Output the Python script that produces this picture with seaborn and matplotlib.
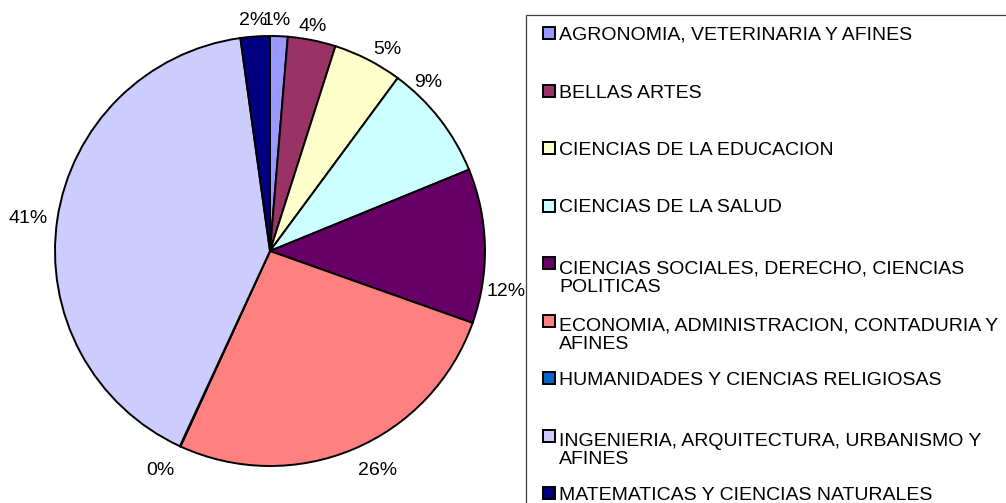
import matplotlib
matplotlib.use("Agg")
import matplotlib.pyplot as plt
from matplotlib.patches import Rectangle
import seaborn as sns

# ---- data ----
categories = [
    "AGRONOMIA, VETERINARIA Y AFINES",
    "BELLAS ARTES",
    "CIENCIAS DE LA EDUCACION",
    "CIENCIAS DE LA SALUD",
    "CIENCIAS SOCIALES, DERECHO, CIENCIAS\nPOLITICAS",
    "ECONOMIA, ADMINISTRACION, CONTADURIA Y\nAFINES",
    "HUMANIDADES Y CIENCIAS RELIGIOSAS",
    "INGENIERIA, ARQUITECTURA, URBANISMO Y\nAFINES",
    "MATEMATICAS Y CIENCIAS NATURALES",
]
shares = [1.32, 3.6, 5.2, 8.7, 11.6, 26.4, 0.05, 40.9, 2.2]
colors = ["#9999FF", "#993366", "#FFFFCC", "#CCFFFF", "#660066",
          "#FF8080", "#0066CC", "#CCCCFF", "#000080"]

# label centre positions (pie units), styling only; same order as slices
label_xy = [(0.03, 1.07), (0.20, 1.045), (0.545, 0.935), (0.735, 0.786),
            (1.10, -0.19), (0.50, -1.023), (-0.51, -1.023), (-1.125, 0.153),
            (-0.08, 1.07)]

sns.set_theme(style="white")
plt.rcParams["font.family"] = ["Liberation Sans", "DejaVu Sans"]

W, H = 1006, 503
fig = plt.figure(figsize=(W / 100, H / 100), dpi=100)
fig.patch.set_facecolor("white")

cx, cy, r = 270, 251, 215
ax = fig.add_axes([(cx - r) / W, (H - cy - r) / H, 2 * r / W, 2 * r / H])
wedges, texts, autotexts = ax.pie(
    shares, colors=sns.color_palette(colors), startangle=90, counterclock=False,
    autopct="%.0f%%", pctdistance=1.1,
    wedgeprops=dict(edgecolor="black", linewidth=1.4),
    textprops=dict(fontsize=14, color="black"),
)
for w in wedges:
    w.set_clip_on(False)
for t, (x, y) in zip(autotexts, label_xy):
    t.set_position((x, y))
    t.set_ha("center")
    t.set_va("center")
ax.set_xlim(-1, 1)
ax.set_ylim(-1, 1)
ax.set_aspect("equal")
ax.axis("off")

def fx(px):
    return px / W

def fy(py):
    return 1 - py / H

# legend frame
fig.patches.append(Rectangle((fx(526), fy(520)), fx(1020) - fx(526), fy(15) - fy(520),
                             transform=fig.transFigure, facecolor="none",
                             edgecolor="#404040", linewidth=0.9, zorder=1))
step = 57.5
line_h = 21.5
for i, (lab, col) in enumerate(zip(categories, colors)):
    base = 40 + step * i
    nlines = lab.count("\n")
    fig.patches.append(Rectangle((fx(542.5), fy(base - 1)), fx(12), 12 / H,
                                 transform=fig.transFigure, facecolor=col,
                                 edgecolor="black", linewidth=1.4, zorder=3))
    fig.text(fx(559), fy(base + nlines * line_h), lab, fontsize=14, va="baseline",
             ha="left", color="black", linespacing=1.1)

fig.savefig("out.png", dpi=100, facecolor="white")
